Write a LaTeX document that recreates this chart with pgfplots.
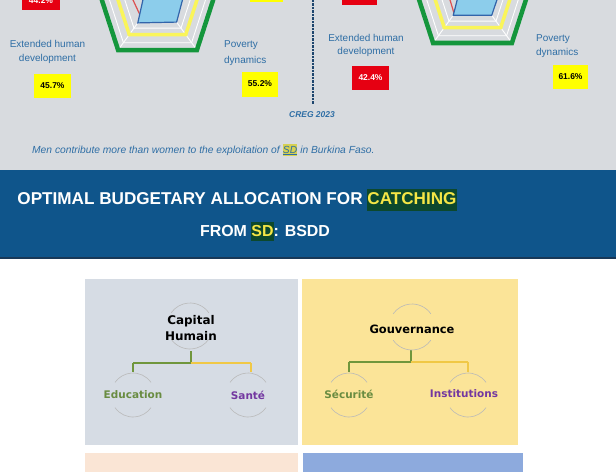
\documentclass[border=0pt]{standalone}
\usepackage{pgfplots}
\pgfplotsset{compat=1.18}
\usepackage{fontspec}
\setmainfont{Liberation Sans}
\newfontfamily\dv{DejaVu Sans}
\definecolor{topgray}{RGB}{216,219,223}
\definecolor{banner}{RGB}{15,85,139}
\definecolor{txtblue}{RGB}{46,110,165}
\definecolor{navy}{RGB}{30,70,110}
\definecolor{redbox}{RGB}{230,0,18}
\definecolor{yelbox}{RGB}{255,255,0}
\definecolor{ringgreen}{RGB}{20,150,60}
\definecolor{ringyel}{RGB}{250,245,90}
\definecolor{bluefill}{RGB}{140,205,235}
\definecolor{bluedraw}{RGB}{50,100,170}
\definecolor{redline}{RGB}{220,80,80}
\definecolor{dkg}{RGB}{12,72,45}
\definecolor{yeltxt}{RGB}{245,230,70}
\definecolor{hl}{RGB}{214,208,82}
\definecolor{boxa}{RGB}{214,220,228}
\definecolor{boxb}{RGB}{251,228,152}
\definecolor{boxc}{RGB}{250,229,213}
\definecolor{boxd}{RGB}{141,170,221}
\definecolor{treegreen}{RGB}{112,150,60}
\definecolor{treeyel}{RGB}{240,200,70}
\definecolor{subgreen}{RGB}{105,140,65}
\definecolor{purp}{RGB}{115,55,160}
\definecolor{arcgray}{RGB}{185,185,185}
\begin{document}
\begin{tikzpicture}
\useasboundingbox (0,0) rectangle (616bp,472bp);
\clip (0,0) rectangle (616bp,472bp);
\begin{axis}[at={(0,0)},anchor=south west,scale only axis,width=616bp,height=472bp,
  xmin=0,xmax=616,ymin=0,ymax=472,y dir=reverse,hide axis,clip=true]
% backgrounds
\addplot[fill=topgray,draw=none] coordinates {(0,0)(616,0)(616,170)(0,170)} --cycle;
\addplot[fill=banner,draw=none] coordinates {(0,170)(616,170)(616,258)(0,258)} --cycle;
\addplot[draw=navy!80!black,line width=1.5bp] coordinates {(0,258)(616,258)};
% ---------- left radar ----------
\addplot[white,line width=0.9bp] coordinates {(157.5,-62.2)(212.66,-22.12)(191.59,42.72)(123.41,42.72)(102.34,-22.12)} --cycle;
\addplot[white,line width=0.9bp] coordinates {(157.5,-44.2)(195.54,-16.56)(181.01,28.16)(133.99,28.16)(119.46,-16.56)} --cycle;
\addplot[white,line width=0.9bp] coordinates {(157.5,-4.2)(196.9,50)};
\addplot[white,line width=0.9bp] coordinates {(157.5,-4.2)(118.1,50)};
\addplot[ringyel,line width=3.5bp] coordinates {(157.5,-52.2)(203.15,-19.03)(185.71,34.63)(129.29,34.63)(111.85,-19.03)} --cycle;
\addplot[ringgreen,line width=4.5bp] coordinates {(157.5,-71.2)(221.2,-24.9)(196.9,50)(118.1,50)(93.8,-24.9)} --cycle;
\addplot[redline,line width=1.2bp] coordinates {(157.5,-34.2)(181.28,-11.93)(173.96,18.45)(141.39,17.97)(126.31,-14.34)} --cycle;
\addplot[fill=bluefill,draw=bluedraw,line width=1.2bp] coordinates {(157.5,-40.2)(186.03,-13.47)(176.6,22.09)(137.81,22.9)(144.76,-8.34)} --cycle;
% ---------- right radar ----------
\addplot[white,line width=0.9bp] coordinates {(472.5,-69.2)(527.66,-29.12)(506.59,35.72)(438.41,35.72)(417.34,-29.12)} --cycle;
\addplot[white,line width=0.9bp] coordinates {(472.5,-51.2)(510.54,-23.56)(496.01,21.16)(448.99,21.16)(434.46,-23.56)} --cycle;
\addplot[white,line width=0.9bp] coordinates {(472.5,-11.2)(511.9,43)};
\addplot[white,line width=0.9bp] coordinates {(472.5,-11.2)(433.1,43)};
\addplot[ringyel,line width=3.5bp] coordinates {(472.5,-59.2)(518.15,-26.03)(500.71,27.63)(444.29,27.63)(426.85,-26.03)} --cycle;
\addplot[ringgreen,line width=4.5bp] coordinates {(472.5,-78.2)(536.2,-31.9)(511.9,43)(433.1,43)(408.8,-31.9)} --cycle;
\addplot[redline,line width=1.2bp] coordinates {(472.5,-41.2)(496.28,-18.93)(488.96,11.45)(454.21,13.96)(443.87,-20.5)} --cycle;
\addplot[fill=bluefill,draw=bluedraw,line width=1.2bp] coordinates {(472.5,-47.2)(504.17,-21.49)(491.72,15.25)(453.28,15.25)(460.99,-14.94)} --cycle;
% top partial boxes
\addplot[fill=redbox,draw=none] coordinates {(22,-5)(60,-5)(60,10)(22,10)} --cycle;
\addplot[fill=yelbox,draw=none] coordinates {(250,-5)(283,-5)(283,2)(250,2)} --cycle;
\addplot[fill=redbox,draw=none] coordinates {(342,-5)(377,-5)(377,5)(342,5)} --cycle;
% dotted separator
\addplot[navy,line width=2.5bp,dash pattern=on 2.5bp off 1bp] coordinates {(313,0)(313,104)};
% boxes below
\addplot[fill=boxa,draw=none] coordinates {(85,279)(298,279)(298,445)(85,445)} --cycle;
\addplot[fill=boxb,draw=none] coordinates {(302,279)(518,279)(518,445)(302,445)} --cycle;
\addplot[fill=boxc,draw=none] coordinates {(85,453)(298,453)(298,480)(85,480)} --cycle;
\addplot[fill=boxd,draw=none] coordinates {(303,453)(523,453)(523,480)(303,480)} --cycle;
% tree lines box 1
\addplot[treegreen,line width=1.8bp] coordinates {(191,351)(191,363)};
\addplot[treegreen,line width=1.8bp] coordinates {(133,363)(191,363)};
\addplot[treeyel,line width=1.8bp] coordinates {(191,363)(251,363)};
\addplot[treegreen,line width=1.8bp] coordinates {(133,363)(133,372)};
\addplot[treeyel,line width=1.8bp] coordinates {(251,363)(251,372)};
% tree lines box 2
\addplot[treegreen,line width=1.8bp] coordinates {(411,350)(411,362)};
\addplot[treegreen,line width=1.8bp] coordinates {(349,362)(411,362)};
\addplot[treeyel,line width=1.8bp] coordinates {(411,362)(468,362)};
\addplot[treegreen,line width=1.8bp] coordinates {(349,362)(349,372)};
\addplot[treeyel,line width=1.8bp] coordinates {(468,362)(468,372)};
% circle arcs
\foreach \cx/\cy/\r in {190/326/23, 133/395/22, 248/395/22, 412/327/23, 349/395/22, 468/395/22}{
  \edef\tmp{\noexpand\draw[arcgray,line width=0.6bp] ([shift={(35:\r bp)}]axis cs:\cx,\cy) arc[start angle=35,end angle=145,radius=\r bp];
  \noexpand\draw[arcgray,line width=0.6bp] ([shift={(215:\r bp)}]axis cs:\cx,\cy) arc[start angle=215,end angle=325,radius=\r bp];}
  \tmp
}
% ---------- texts ----------
\node[text=white,font=\fontsize{8.5}{10}\selectfont\bfseries] at (axis cs:41,1) {44.2\%};
\node[text=white,font=\fontsize{8.5}{10}\selectfont\bfseries] at (axis cs:359.5,-4) {41.2\%};
\node[text=txtblue,align=center,font=\fontsize{10}{14}\selectfont] at (axis cs:47.5,52) {Extended human\\development};
\node[text=txtblue,align=left,anchor=west,inner sep=0,font=\fontsize{10}{16}\selectfont] at (axis cs:224,53) {Poverty\\dynamics};
\node[text=txtblue,align=center,font=\fontsize{10}{13.5}\selectfont] at (axis cs:366,45.5) {Extended human\\development};
\node[text=txtblue,align=left,anchor=west,inner sep=0,font=\fontsize{10}{14}\selectfont] at (axis cs:536,46) {Poverty\\dynamics};
\node[fill=yelbox,minimum width=37bp,minimum height=24bp,inner sep=0,font=\fontsize{8.5}{10}\selectfont\bfseries] at (axis cs:52.5,86) {45.7\%};
\node[fill=yelbox,minimum width=36bp,minimum height=25bp,inner sep=0,font=\fontsize{8.5}{10}\selectfont\bfseries] at (axis cs:260,84) {55.2\%};
\node[fill=redbox,text=white,minimum width=37bp,minimum height=24bp,inner sep=0,font=\fontsize{8.5}{10}\selectfont\bfseries] at (axis cs:370.5,78) {42.4\%};
\node[fill=yelbox,minimum width=35bp,minimum height=24bp,inner sep=0,font=\fontsize{8.5}{10}\selectfont\bfseries] at (axis cs:570.5,77) {61.6\%};
\node[text=txtblue,font=\fontsize{8.5}{10}\selectfont\bfseries\itshape] at (axis cs:312,115) {CREG 2023};
\node[anchor=base west,inner sep=0,text=txtblue,font=\fontsize{10.3}{12}\selectfont\itshape] at (axis cs:32,153)
  {Men contribute more than women to the exploitation of {\setlength{\fboxsep}{0.3bp}\colorbox{hl}{\rule[-3bp]{0pt}{12bp}\underline{SD}}} in Burkina Faso.};
\node[anchor=base,inner sep=0,text=white,font=\fontsize{17.2}{20}\selectfont\bfseries] at (axis cs:237,204)
  {OPTIMAL BUDGETARY ALLOCATION FOR {\setlength{\fboxsep}{0pt}\colorbox{dkg}{\rule[-7bp]{0pt}{22bp}\textcolor{yeltxt}{CATCHING}}}};
\node[anchor=base,inner sep=0,text=white,font=\fontsize{16}{20}\selectfont\bfseries] at (axis cs:265,236)
  {FROM {\setlength{\fboxsep}{0pt}\colorbox{dkg}{\rule[-5bp]{0pt}{19bp}\textcolor{yeltxt}{SD}}}: BSDD};
\node[align=center,font=\fontsize{12}{16}\selectfont\dv\bfseries] at (axis cs:191,328) {Capital\\Humain};
\node[font=\fontsize{11.5}{14}\selectfont\dv\bfseries] at (axis cs:412,329) {Gouvernance};
\node[text=subgreen,font=\fontsize{10.5}{13}\selectfont\dv\bfseries] at (axis cs:133,395) {Education};
\node[text=purp,font=\fontsize{10.5}{13}\selectfont\dv\bfseries] at (axis cs:248,395) {Santé};
\node[text=subgreen,font=\fontsize{10.5}{13}\selectfont\dv\bfseries] at (axis cs:349,394) {Sécurité};
\node[text=purp,font=\fontsize{10.5}{13}\selectfont\dv\bfseries] at (axis cs:464,394) {Institutions};
\end{axis}
\end{tikzpicture}
\end{document}
